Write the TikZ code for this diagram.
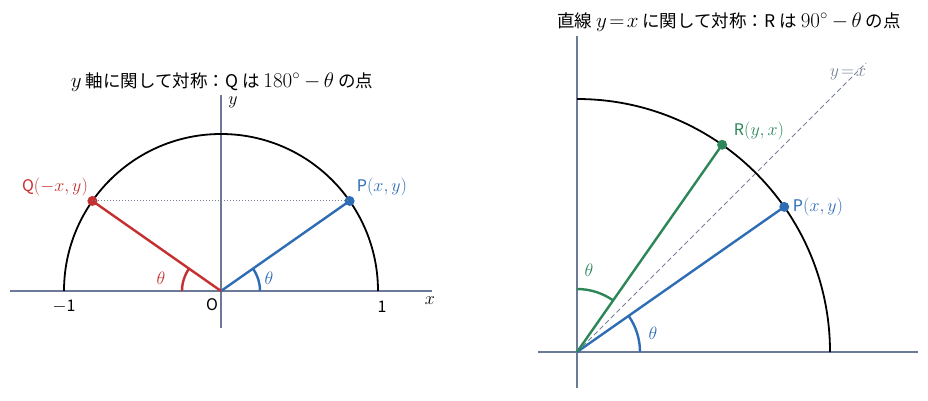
\RequirePackage{fix-cm}
\documentclass[tikz,border=0pt]{standalone}
\usepackage[no-math]{fontspec}
\setmainfont{Noto Sans CJK JP}
\newcommand\mathat[2]{{\fontsize{#1}{#1}\selectfont$#2$}}
\newcommand\lm[1]{\mathat{18}{#1}}
\newcommand\tm[1]{\mathat{21}{#1}}
\definecolor{axc}{RGB}{108,122,152}
\definecolor{pblue}{RGB}{46,108,180}
\definecolor{qred}{RGB}{198,47,47}
\definecolor{rgreen}{RGB}{44,134,88}
\definecolor{dotc}{RGB}{120,130,150}
\tikzset{
  axis/.style={draw=axc,line width=1.2pt},
  circ/.style={draw=black,line width=1.8pt},
  ray/.style={line width=2.4pt},
  angarc/.style={line width=2.4pt},
  pt/.style={circle,inner sep=0pt,minimum size=10pt},
  lbl/.style={font=\fontsize{16}{19}\selectfont,inner sep=1pt},
  ttl/.style={font=\fontsize{17.5}{21}\selectfont,inner sep=1pt},
}
\begin{document}
\begin{tikzpicture}[x=1pt,y=1pt]
\useasboundingbox (0,0) rectangle (928,400);
% ---------- left panel ----------
\begin{scope}[shift={(221,109)}]
  \coordinate (O1) at (0,0);
  \coordinate (xl) at (-211,0);
  \coordinate (xr) at (211,0);
  \coordinate (yb) at (0,-37);
  \coordinate (yt) at (0,196);
  \draw[axis] (xl) -- (xr);
  \draw[axis] (yb) -- (yt);
  \draw[circ] (157,0) arc[start angle=0,end angle=180,radius=157];
  \node[pt,fill=pblue] (P1) at (35:157) {};
  \node[pt,fill=qred] (Q1) at (145:157) {};
  \draw[dotc,dotted,line width=1pt] (Q1.center) -- (P1.center);
  \draw[ray,pblue] (O1) -- (P1.center);
  \draw[ray,qred] (O1) -- (Q1.center);
  \draw[angarc,pblue] (39,0) arc[start angle=0,end angle=35,radius=39];
  \draw[angarc,qred] (145:39) arc[start angle=145,end angle=180,radius=39];
  \node[lbl,text=pblue] (t1) at (48,13) {\lm{\theta}};
  \node[lbl,text=qred] (t2) at (-60,13) {\lm{\theta}};
  \node[lbl] (Ol) at (-9,-14) {O};
  \node[lbl] (m1) at (-157,-16) {\lm{-}1};
  \node[lbl] (p1) at (161,-16) {1};
  \node[lbl] (xlab) at (209,-10) {\lm{x}};
  \node[lbl] (ylab) at (12,189) {\lm{y}};
  \node[lbl,text=pblue] (Pl) at (161,104) {P\lm{(x,y)}};
  \node[lbl,text=qred] (Ql) at (-166,104) {Q\lm{(-x,y)}};
\end{scope}
\node[ttl] (T1) at (222,318) {\tm{y} 軸に関して対称：Q\ は\ \tm{180^\circ}\ \tm{-\,\theta}\ の点};
% ---------- right panel ----------
\begin{scope}[shift={(577,48)}]
  \coordinate (O2) at (0,0);
  \coordinate (xl2) at (-39,0);
  \coordinate (xr2) at (341,0);
  \coordinate (yb2) at (0,-36);
  \coordinate (yt2) at (0,316);
  \coordinate (dl) at (289,289);
  \draw[axis] (xl2) -- (xr2);
  \draw[axis] (yb2) -- (yt2);
  \draw[dotc,dashed,line width=1pt,dash pattern=on 5pt off 3pt] (O2) -- (dl);
  \draw[circ] (253,0) arc[start angle=0,end angle=90,radius=253];
  \node[pt,fill=pblue] (P2) at (35:253) {};
  \node[pt,fill=rgreen] (R2) at (55:253) {};
  \draw[ray,pblue] (O2) -- (P2.center);
  \draw[ray,rgreen] (O2) -- (R2.center);
  \draw[angarc,pblue] (63,0) arc[start angle=0,end angle=35,radius=63];
  \draw[angarc,rgreen] (55:63) arc[start angle=55,end angle=90,radius=63];
  \node[lbl,text=pblue] (t3) at (76,19) {\lm{\theta}};
  \node[lbl,text=rgreen] (t4) at (12,82) {\lm{\theta}};
  \node[lbl,text=dotc] (yx) at (271,278) {\lm{y\!=\!x}};
  \node[lbl,text=rgreen] (Rl) at (182,221) {R\lm{(y,x)}};
  \node[lbl,text=pblue] (Pl2) at (241,145) {P\lm{(x,y)}};
\end{scope}
\node[ttl] (T2) at (729,378) {直線 \tm{y\!=\!x} に関して対称：R\ は\ \tm{90^\circ}\ \tm{-\,\theta}\ の点};
\end{tikzpicture}
\end{document}
